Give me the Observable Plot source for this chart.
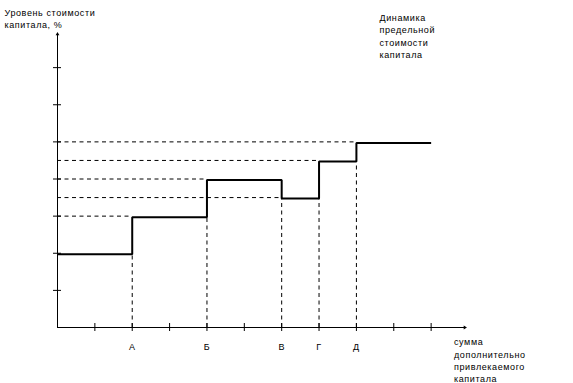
<!DOCTYPE html>
<html><head><meta charset="utf-8">
<script src="https://cdn.jsdelivr.net/npm/d3@7"></script>
<script src="https://cdn.jsdelivr.net/npm/@observablehq/plot@0.6"></script>
<style>body{margin:0;background:#fff} svg{display:block}</style>
</head><body><div id="chart"></div>
<script>
// data
const breakpoints = [0, 2, 4, 6, 7, 8, 10];
const levels = [2, 3, 4, 3.5, 4.5, 5, 5];
const pointLabels = ["А", "Б", "В", "Г", "Д"];
const xTicks = [1, 2, 3, 4, 5, 6, 7, 8, 9, 10];
const yTicks = [1, 2, 3, 4, 5, 6, 7];
const yTitle = "Уровень стоимости\nкапитала, %";
const xTitle = "сумма\nдополнительно\nпривлекаемого\nкапитала";
const chartTitle = "Динамика\nпредельной\nстоимости\nкапитала";
const xMax = 11, yMax = 8;

const step = breakpoints.map((x, i) => ({x, y: levels[i]}));
const changes = breakpoints.slice(1, 6).map((x, i) => ({
  x, before: levels[i], after: levels[i + 1], label: pointLabels[i]
}));

const font = {fontFamily: "Liberation Sans, Arial, sans-serif", fontSize: 9};
const ls = "0.6px";

const chart = Plot.plot({
  width: 573, height: 383,
  marginLeft: 57, marginRight: 105, marginTop: 30, marginBottom: 56,
  x: {domain: [0, xMax], axis: null},
  y: {domain: [0, yMax], axis: null},
  style: {fontFamily: "Liberation Sans, Arial, sans-serif", fontSize: "9px", background: "#fff"},
  marks: [
    // dashed guides
    Plot.ruleX(changes, {x: "x", y1: 0, y2: d => Math.min(d.before, d.after), stroke: "#000", strokeWidth: 1, strokeDasharray: "4,3.5"}),
    Plot.ruleY(changes, {y: "after", x1: 0, x2: "x", stroke: "#000", strokeWidth: 1, strokeDasharray: "4,3.5"}),
    // axes
    Plot.ruleY([0], {x1: 0, x2: xMax - 0.1, stroke: "#000", strokeWidth: 1}),
    Plot.ruleX([0], {y1: 0, y2: yMax - 0.1, stroke: "#000", strokeWidth: 1}),
    Plot.dot([{x: xMax - 0.1, y: 0}], {x: "x", y: "y", symbol: "triangle2", r: 1.8, fill: "#000", stroke: null, rotate: 90}),
    Plot.dot([{x: 0, y: yMax - 0.1}], {x: "x", y: "y", symbol: "triangle2", r: 1.8, fill: "#000", stroke: null}),
    // ticks
    Plot.ruleX(xTicks, {x: d => d, y1: 0, y2: 0, insetTop: -4, insetBottom: -4, stroke: "#000", strokeWidth: 1}),
    Plot.ruleY(yTicks, {y: d => d, x1: 0, x2: 0, insetLeft: -4, insetRight: -4, stroke: "#000", strokeWidth: 1}),
    // step line
    Plot.line(step, {x: "x", y: "y", curve: "step-after", stroke: "#000", strokeWidth: 2, strokeLinejoin: "miter", strokeLinecap: "butt", dy: 1}),
    // point labels
    Plot.text(changes, {x: "x", y: 0, text: "label", lineAnchor: "top", dy: 15.8, fill: "#000", ...font}),
    // titles
    Plot.text([yTitle], {frameAnchor: "top-left", textAnchor: "start", lineAnchor: "top", dx: -53, dy: -23.3, lineHeight: 1.35, fill: "#000", ...font}),
    Plot.text([chartTitle], {frameAnchor: "top-right", textAnchor: "start", lineAnchor: "top", dx: -89, dy: -18.3, lineHeight: 1.37, fill: "#000", ...font}),
    Plot.text([xTitle], {frameAnchor: "bottom-right", textAnchor: "start", lineAnchor: "top", dx: -14.5, dy: 9.3, lineHeight: 1.36, fill: "#000", ...font})
  ]
});
chart.querySelectorAll("text").forEach(t => t.style.letterSpacing = ls);
document.getElementById("chart").append(chart);
</script>
</body></html>
